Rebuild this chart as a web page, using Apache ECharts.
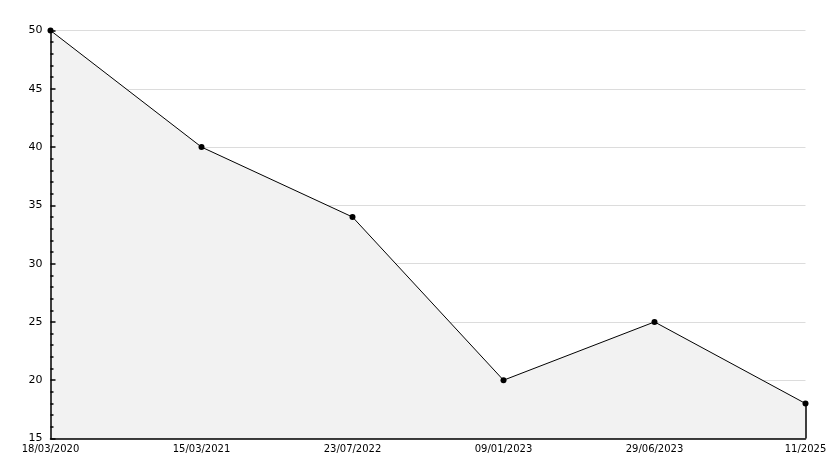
<!DOCTYPE html>
<html><head><meta charset="utf-8">
<script src="https://cdn.jsdelivr.net/npm/echarts@6/dist/echarts.min.js"></script>
<style>html,body{margin:0;padding:0;background:#fff}#c{width:834px;height:468px}</style>
</head><body><div id="c"></div>
<script>
const categories = ['18/03/2020','15/03/2021','23/07/2022','09/01/2023','29/06/2023','11/2025'];
const values = [50, 40, 34, 20, 25, 18];
const yMin = 15, yMax = 50, yStep = 5;

const chart = echarts.init(document.getElementById('c'), null, {renderer:'canvas'});
const font = 'DejaVu Sans';
const lastCat = categories[categories.length-1];
chart.setOption({
  animation: false,
  backgroundColor: '#fff',
  grid: {left: 50.5, right: 28.5, top: 30.5, bottom: 29.5, containLabel: false},
  xAxis: {
    type: 'category', data: categories, boundaryGap: false, z: 5,
    axisLine: {lineStyle: {color: '#000', width: 1.5}},
    axisTick: {show: false},
    axisLabel: {color: '#000', fontFamily: font, fontSize: 10, margin: 6, interval: 0},
    splitLine: {show: false}
  },
  yAxis: [{
    type: 'value', min: yMin, max: yMax, interval: yStep, z: 0, position: 'left',
    axisLine: {show: false}, axisTick: {show: false}, axisLabel: {show: false},
    splitLine: {show: true, lineStyle: {color: '#dcdcdc', width: 1}}
  }, {
    type: 'value', min: yMin, max: yMax, interval: yStep, z: 5, position: 'left',
    axisLine: {show: true, lineStyle: {color: '#000', width: 1.5}},
    axisTick: {show: true, inside: true, length: 5, lineStyle: {color: '#000', width: 1.5}},
    minorTick: {show: true, splitNumber: 5, length: 3, lineStyle: {color: '#000', width: 1.5}},
    axisLabel: {color: '#000', fontFamily: font, fontSize: 11, margin: 8},
    splitLine: {show: false}
  }],
  series: [{
    type: 'line', data: values, yAxisIndex: 0,
    symbol: 'circle', symbolSize: 6,
    itemStyle: {color: '#000'},
    lineStyle: {color: '#000', width: 1},
    areaStyle: {color: '#f2f2f2', opacity: 1, origin: 'start'},
    markLine: {
      silent: true, symbol: 'none', label: {show: false},
      lineStyle: {color: '#000', width: 1.5, type: 'solid'},
      data: [[{coord: [lastCat, values[values.length-1]]}, {coord: [lastCat, yMin]}]]
    }
  }]
});
</script></body></html>
